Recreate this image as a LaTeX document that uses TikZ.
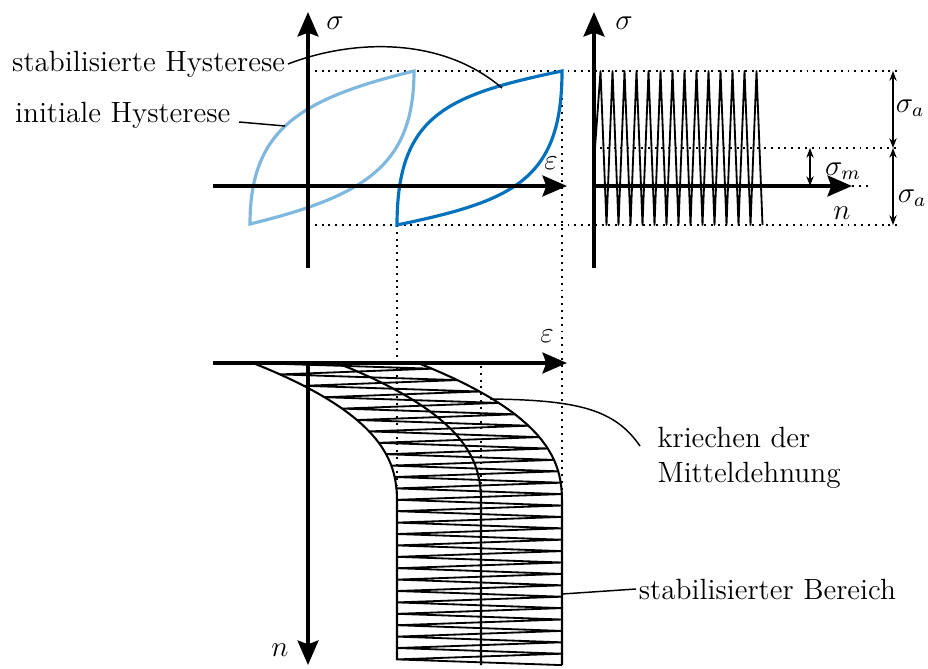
\documentclass[tikz,border=0pt]{standalone}
\usepackage{xcolor}
\definecolor{tublau}{HTML}{0072BD}
\definecolor{tuhell}{HTML}{7FB8DE}
\usepackage{amsmath,tikz}
\usetikzlibrary{arrows.meta}

\begin{document}
\begin{tikzpicture}[x=0.41pt, y=-0.41pt,
  every node/.style={font=\large},
  achse/.style={line width=1.6pt, -{Stealth[length=10pt,width=8.5pt,inset=1.5pt]}},
  hilfslinie/.style={dotted, thick},
  masspfeil/.style={semithick, {Stealth[length=4pt,width=3pt]}-{Stealth[length=4pt,width=3pt]}},
  zick/.style={line width=0.75pt, line join=round},
  rand/.style={line width=0.85pt},
  schleife/.style={line width=1.3pt},
  leitlinie/.style={semithick},
  declare function={Lx(\s)=397-144*pow(max(1-(\s-363)/140,0.001),2.45);}]
\useasboundingbox (0,0) rectangle (928,668);

% Hilfslinien
\draw[hilfslinie] (308,71) -- (900,71);
\draw[hilfslinie] (308,225) -- (900,225);
\draw[hilfslinie] (600,148) -- (900,148);
\draw[hilfslinie] (397,225) -- (397,660);
\draw[hilfslinie] (562,71) -- (562,665);
\draw[hilfslinie] (481,366) -- (481,665);
\draw[hilfslinie] (852,186) -- (868,186);

% Hysteresen
\begin{scope}[shift={(250,224)}]
\draw[schleife, tuhell] (0,0) .. controls (0,-95) and (50,-125) .. (164,-153)
  .. controls (164,-58) and (114,-28) .. cycle;
\end{scope}
\begin{scope}[shift={(397,225)}]
\draw[schleife, tublau] (0,0) .. controls (0,-110) and (50,-130) .. (165,-154)
  .. controls (165,-44) and (115,-24) .. cycle;
\end{scope}

% Spannung ueber Lastspielzahl
\draw[zick] (595,148) \foreach \k in {0,...,13}{ -- ({600.5+12*\k},71) -- ({606.5+12*\k},225) };

% Dehnung ueber Lastspielzahl
\draw[rand] plot[variable=\s, domain=363:660, samples=60] ({Lx(\s)},\s);
\draw[rand] plot[variable=\s, domain=363:665, samples=60] ({Lx(\s)+84},\s);
\draw[rand] plot[variable=\s, domain=363:665, samples=60] ({Lx(\s)+165},\s);
\draw[zick] (253,363) \foreach \i in {1,...,53}{ -- ({Lx(363+5.7*\i)+165*mod(\i,2)},{363+5.7*\i}) };

% Achsen
\draw[achse] (308,268) -- (308,12);
\draw[achse] (213,186) -- (567,186);
\draw[achse] (594,268) -- (594,12);
\draw[achse] (594,186) -- (852,186);
\draw[achse] (213,363) -- (567,363);
\draw[achse] (308,363) -- (308,665);

\node (sig1) at (335,23) {$\sigma$};
\node (eps1) at (551,163) {$\varepsilon$};
\node (sig2) at (624,23) {$\sigma$};
\node (n1) at (842,213) {$n$};
\node (eps2) at (547,336) {$\varepsilon$};
\node (n2) at (280,650) {$n$};

% Amplituden und Mittelspannung
\coordinate (ob) at (893,71);
\coordinate (mi) at (893,148);
\coordinate (un) at (893,225);
\coordinate (mm) at (810,148);
\coordinate (mn) at (810,186);
\draw[masspfeil] (ob) -- (mi);
\draw[masspfeil] (mi) -- (un);
\draw[masspfeil] (mm) -- (mn);
\node (sa1) at (910,108) {$\sigma_a$};
\node (sa2) at (912,198) {$\sigma_a$};
\node (sm) at (843,171) {$\sigma_m$};

% Beschriftungen
\node[anchor=east, inner sep=1pt] (sh) at (288,64) {stabilisierte Hysterese};
\node[anchor=base east] (ih) at (239,122) {initiale Hysterese};
\node[anchor=west, align=left, inner sep=0pt] (kr) at (657,458) {kriechen der\\[0.5pt]Mitteldehnung};
\node[anchor=west, inner sep=1pt] (sb) at (636,589) {stabilisierter Bereich};

\coordinate (stabpunkt) at (502,88);
\coordinate (initpunkt) at (285,126);
\coordinate (kriechpunkt) at (490,399);
\coordinate (kriechende) at (640,446);
\coordinate (bereichpunkt) at (562,594);
\draw[leitlinie] (sh.east) .. controls (350,40) and (440,35) .. (stabpunkt);
\draw[leitlinie] (ih.base east) -- (initpunkt);
\draw[leitlinie] (kriechpunkt) .. controls (580,400) and (615,410) .. (kriechende);
\draw[leitlinie] (bereichpunkt) -- (sb.west);
\end{tikzpicture}
\end{document}
